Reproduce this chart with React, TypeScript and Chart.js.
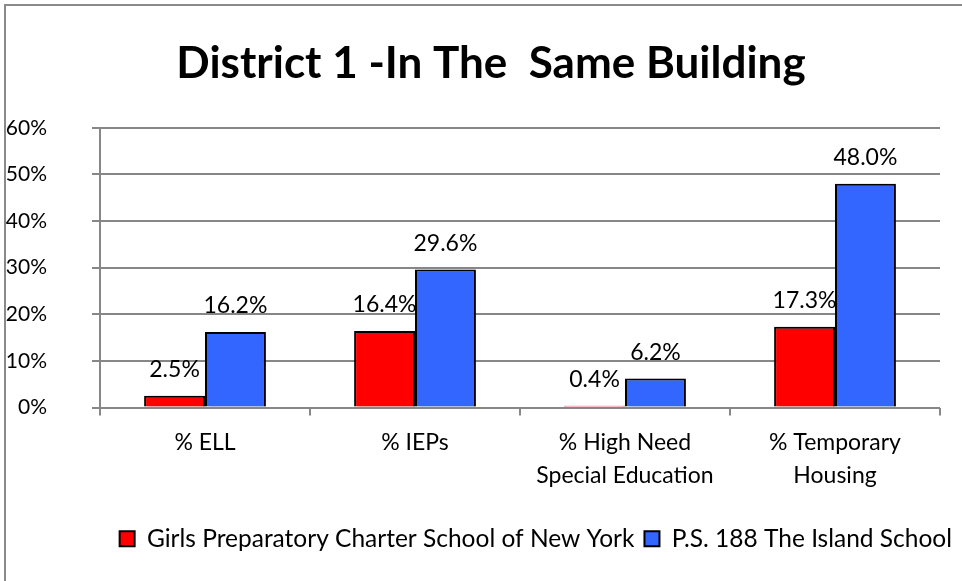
import React, { useEffect, useRef } from "react";
import { Chart, registerables } from "chart.js";

Chart.register(...registerables);

const titleText = "District 1 -In The  Same Building";
const categories: string[][] = [
  ["% ELL"],
  ["% IEPs"],
  ["% High Need", "Special Education"],
  ["% Temporary", "Housing"],
];
const seriesNames = [
  "Girls Preparatory Charter School of New York",
  "P.S. 188 The Island School",
];
const girlsPrepValues = [2.5, 16.4, 0.4, 17.3];
const ps188Values = [16.2, 29.6, 6.2, 48.0];
const yMin = 0;
const yMax = 60;
const yStep = 10;

const FONT = "Lato, 'Noto Sans', sans-serif";
const GRID = "#878787";

const framePlugin = {
  id: "frame",
  afterLayout(chart: any) {
    // shift the title block's box so it centres slightly right of canvas centre
    if (chart.titleBlock) {
      chart.titleBlock.left = 20;
    }
  },
  beforeDraw(chart: any) {
    const { ctx, width, height } = chart;
    ctx.save();
    ctx.fillStyle = "#ffffff";
    ctx.fillRect(0, 0, width, height);
    ctx.strokeStyle = "#8a8a8a";
    ctx.lineWidth = 2;
    ctx.strokeRect(5, 5, width + 20, height + 20);
    ctx.restore();
  },
};

const shadowPlugin = {
  id: "barShadow",
  beforeDatasetsDraw(chart: any) {
    const ctx = chart.ctx;
    ctx.save();
    ctx.shadowColor = "rgba(0,0,0,0.35)";
    ctx.shadowOffsetX = 3;
    ctx.shadowOffsetY = 2;
    ctx.shadowBlur = 4;
  },
  afterDatasetsDraw(chart: any) {
    chart.ctx.restore();
  },
};

const valueLabelPlugin = {
  id: "valueLabels",
  afterDatasetsDraw(chart: any) {
    const ctx = chart.ctx;
    ctx.save();
    ctx.fillStyle = "#000000";
    ctx.font = `23px ${FONT}`;
    ctx.textAlign = "center";
    ctx.textBaseline = "middle";
    chart.data.datasets.forEach((ds: any, di: number) => {
      const meta = chart.getDatasetMeta(di);
      meta.data.forEach((bar: any, i: number) => {
        const v = ds.data[i] as number;
        ctx.fillText(v.toFixed(1) + "%", bar.x, bar.y - 26);
      });
    });
    ctx.restore();
  },
};

export default function App() {
  const ref = useRef<HTMLCanvasElement | null>(null);

  useEffect(() => {
    if (!ref.current) return;
    const chart = new Chart(ref.current, {
      type: "bar",
      data: {
        labels: categories,
        datasets: [
          {
            label: seriesNames[0],
            data: girlsPrepValues,
            backgroundColor: "#ff0000",
            borderColor: "#000000",
            borderWidth: 2,
          },
          {
            label: seriesNames[1],
            data: ps188Values,
            backgroundColor: "#3366ff",
            borderColor: "#000000",
            borderWidth: 2,
          },
        ],
      },
      options: {
        animation: false,
        responsive: false,
        maintainAspectRatio: false,
        layout: { padding: { left: 0, right: 0, top: 0, bottom: 20 } },
        datasets: {
          bar: { barPercentage: 1, categoryPercentage: 0.58 },
        },
        scales: {
          x: {
            grid: {
              display: true,
              drawOnChartArea: false,
              drawTicks: true,
              tickLength: 8,
              color: GRID,
              lineWidth: 2,
              offset: true,
            },
            border: { display: false },
            ticks: {
              color: "#000000",
              font: { family: FONT, size: 23, lineHeight: 1.45 },
              padding: 10,
              maxRotation: 0,
              autoSkip: false,
            },
            afterFit(scale: any) {
              scale.height = 109;
            },
          },
          y: {
            min: yMin,
            max: yMax,
            ticks: {
              stepSize: yStep,
              color: "#000000",
              font: { family: FONT, size: 21 },
              padding: 45,
              callback: (v: any) => v + "%",
            },
            grid: {
              color: GRID,
              lineWidth: 2,
              tickLength: 8,
            },
            border: { display: true, color: GRID, width: 2 },
            afterFit(scale: any) {
              scale.width = 100;
            },
          },
          yRight: {
            position: "right",
            display: true,
            grid: { display: false },
            ticks: { display: false },
            border: { display: false },
            afterFit(scale: any) {
              scale.width = 22;
            },
          },
        },
        plugins: {
          title: {
            display: true,
            text: titleText,
            color: "#000000",
            font: { family: FONT, size: 44, weight: "bold", lineHeight: 1.2 },
            padding: { top: 37, bottom: 38 },
          },
          legend: {
            display: true,
            position: "bottom",
            align: "end",
            labels: {
              color: "#000000",
              font: { family: FONT, size: 24.5 },
              boxWidth: 15,
              boxHeight: 15,
              padding: 10,
            },
          },
          tooltip: { enabled: false },
        },
      },
      plugins: [framePlugin, shadowPlugin, valueLabelPlugin],
    } as any);
    return () => chart.destroy();
  }, []);

  return (
    <div style={{ position: "fixed", left: 0, top: 0, width: 962, height: 581, background: "#fff" }}>
      <canvas ref={ref} width={962} height={581} style={{ display: "block", width: 962, height: 581 }} />
    </div>
  );
}
